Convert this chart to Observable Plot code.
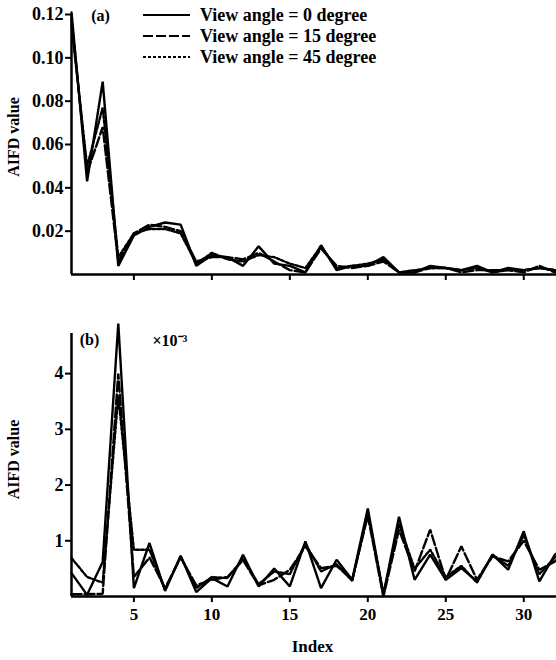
<!DOCTYPE html>
<html><head><meta charset="utf-8">
<script src="https://cdn.jsdelivr.net/npm/d3@7"></script>
<script src="https://cdn.jsdelivr.net/npm/@observablehq/plot@0.6"></script>
<style>
body{margin:0;background:#fff;}
#chart svg{display:block;overflow:hidden;}
#chart svg text{font-family:"Liberation Serif", serif !important;font-weight:bold;}
</style>
</head><body><div id="chart"></div>
<script>
// ---- data ----
const indices = d3.range(1, 34);
const seriesNames = ["View angle = 0 degree", "View angle = 15 degree", "View angle = 45 degree"];
const seriesDash = [null, "10,3", "3,2"];

// panel (a): AIFD values
const aifdA0  = [0.121,0.043,0.089,0.004,0.018,0.022,0.024,0.023,0.004,0.009,0.008,0.004,0.013,0.005,0.004,0.001,0.0135,0.002,0.004,0.004,0.008,0.001,0.001,0.004,0.003,0.002,0.004,0.001,0.003,0.002,0.003,0.002,0.002];
const aifdA15 = [0.118,0.047,0.068,0.006,0.019,0.023,0.022,0.020,0.006,0.008,0.008,0.007,0.010,0.006,0.002,0.001,0.012,0.004,0.003,0.004,0.006,0.001,0.001,0.003,0.003,0.001,0.002,0.002,0.002,0.001,0.004,0.001,0.001];
const aifdA45 = [0.115,0.050,0.077,0.008,0.019,0.021,0.021,0.019,0.005,0.010,0.007,0.006,0.009,0.008,0.005,0.003,0.013,0.003,0.004,0.005,0.007,0.001,0.002,0.003,0.003,0.002,0.003,0.001,0.002,0.002,0.003,0.002,0.001];

// panel (b): AIFD values x 10^-3
const aifdB0  = [0.42,0.03,0.62,4.90,0.15,0.96,0.10,0.73,0.08,0.33,0.18,0.75,0.18,0.50,0.18,0.99,0.15,0.66,0.30,1.58,0.03,1.43,0.30,0.75,0.30,0.51,0.27,0.75,0.48,1.17,0.27,0.75,1.00];
const aifdB15 = [0.04,0.04,0.05,4.00,0.35,0.70,0.15,0.70,0.20,0.30,0.35,0.65,0.20,0.30,0.48,0.90,0.51,0.55,0.30,1.45,0.00,1.20,0.45,1.20,0.30,0.90,0.30,0.72,0.63,1.00,0.48,0.63,0.90];
const aifdB45 = [0.69,0.35,0.25,3.60,0.84,0.84,0.12,0.72,0.15,0.35,0.33,0.68,0.22,0.45,0.40,0.95,0.45,0.58,0.28,1.50,0.05,1.30,0.50,0.84,0.35,0.55,0.25,0.75,0.55,1.10,0.40,0.70,0.95];

const xTicks = [5, 10, 15, 20, 25, 30];
const yTicksA = [0.02, 0.04, 0.06, 0.08, 0.10, 0.12];
const yTicksB = [1, 2, 3, 4];
const yLabel = "AIFD value";
const xLabel = "Index";

// ---- helpers ----
const toRows = arr => indices.map((idx, i) => ({index: idx, value: arr[i]}));
const serif = '"Liberation Serif", serif';
const baseStyle = {fontFamily: serif, fontWeight: "bold", fontSize: "17px", background: "white", overflow: "hidden"};

function lineMarks(arrs) {
  return arrs.map((arr, k) => Plot.line(toRows(arr), {
    x: "index", y: "value", stroke: "black", strokeWidth: 2.4,
    strokeDasharray: seriesDash[k] || undefined, strokeLinejoin: "miter"
  }));
}

const topPlot = Plot.plot({
  width: 556, height: 300,
  marginLeft: 71, marginRight: 0, marginTop: 14, marginBottom: 26,
  style: baseStyle,
  x: {domain: [1, 32.1]},
  y: {domain: [0, 0.12]},
  marks: [
    Plot.axisY({ticks: yTicksA, tickFormat: d => d.toFixed(2), tickSize: 6, tickPadding: 2, strokeWidth: 2, fontSize: 18, label: null}),
    Plot.axisX({ticks: xTicks, tickFormat: () => "", tickSize: 6, strokeWidth: 2, label: null}),
    ...lineMarks([aifdA0, aifdA15, aifdA45]),
    Plot.ruleX([1], {strokeWidth: 2.5}),
    Plot.ruleY([0], {strokeWidth: 2.5}),
    Plot.text([yLabel], {text: d => d, frameAnchor: "left", dx: -58, dy: -7.5, rotate: -90, textAnchor: "middle", lineAnchor: "middle", fontSize: 16}),
    Plot.text(["(a)"], {text: d => d, frameAnchor: "top-left", dx: 29, dy: 1, textAnchor: "middle", lineAnchor: "middle", fontSize: 16})
  ]
});

const bottomPlot = Plot.plot({
  width: 556, height: 360,
  marginLeft: 71, marginRight: 0, marginTop: 33, marginBottom: 64,
  style: baseStyle,
  x: {domain: [1, 32.1]},
  y: {domain: [0, 4.72]},
  marks: [
    Plot.axisY({ticks: yTicksB, tickFormat: d => String(d), tickSize: 6, tickPadding: 2, strokeWidth: 2, fontSize: 18, label: null}),
    Plot.axisX({ticks: xTicks, tickFormat: d => String(d), tickSize: 6, tickPadding: 5, strokeWidth: 2, fontSize: 17, label: null}),
    ...lineMarks([aifdB0, aifdB15, aifdB45]),
    Plot.ruleX([1], {strokeWidth: 2.5}),
    Plot.ruleY([0], {strokeWidth: 2.5}),
    Plot.text([yLabel], {text: d => d, frameAnchor: "left", dx: -58, dy: -5.5, rotate: -90, textAnchor: "middle", lineAnchor: "middle", fontSize: 16}),
    Plot.text([xLabel], {text: d => d, frameAnchor: "bottom", dx: -1.5, dy: 50, textAnchor: "middle", lineAnchor: "middle", fontSize: 17}),
    Plot.text(["(b)"], {text: d => d, frameAnchor: "top-left", dx: 18, dy: 6, textAnchor: "middle", lineAnchor: "middle", fontSize: 16}),
    Plot.text(["×10⁻³"], {text: d => d, frameAnchor: "top-left", dx: 81, dy: 7, textAnchor: "start", lineAnchor: "middle", fontSize: 16})
  ]
});

const chart = document.getElementById("chart");
chart.appendChild(topPlot);
chart.appendChild(bottomPlot);

// legend inside top panel
const leg = d3.select(topPlot).append("g").attr("class", "legend");
seriesNames.forEach((name, k) => {
  const y = 15 + k * 21;
  leg.append("line").attr("x1", 143).attr("x2", 190).attr("y1", y).attr("y2", y)
    .attr("stroke", "black").attr("stroke-width", 2)
    .attr("stroke-dasharray", seriesDash[k]);
  leg.append("text").attr("x", 200).attr("y", y).attr("dy", "0.35em")
    .attr("text-anchor", "start").style("font-size", "18px")
    .text(name);
});
</script>
</body></html>
